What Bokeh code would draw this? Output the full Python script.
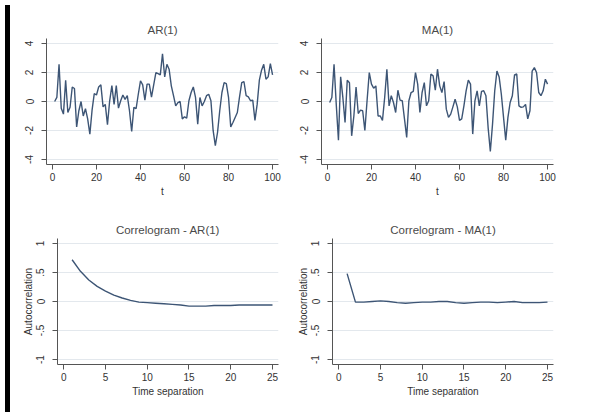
from bokeh.plotting import figure
from bokeh.layouts import column, row
from bokeh.models import Div, FixedTicker
from bokeh.embed import file_html
from bokeh.resources import INLINE

# ---------------- data ----------------
t = list(range(1, 101))
ar1 = [0.0, 0.28, 2.57, -0.46, -0.87, 1.47, -0.76, -0.4, 1.0, 0.9,
       -1.75, -0.64, 0.0, -1.0, -0.5, -1.2, -2.25, -0.6, 0.55, 0.45,
       1.0, 1.15, -0.37, -0.2, -1.6, 0.05, 1.1, -0.2, 1.1, -0.46,
       0.05, 0.45, 0.15, 0.4, -0.64, -2.07, -0.4, -0.5, 0.5, 1.43,
       1.15, 0.1, 1.2, 1.2, 0.3, 1.15, 2.0, 1.93, 1.84, 3.3,
       1.7, 2.57, 2.23, 1.08, 0.4, -0.3, -0.07, 0.0, -1.2, -1.06,
       -1.15, 0.05, 0.62, 1.0, 0.28, -1.56, 0.28, -0.3, 0.0, 0.4,
       0.5, 0.05, -2.0, -3.05, -2.14, -0.64, 0.62, 1.3, 1.24, 0.28,
       -1.75, -1.45, -1.1, -0.76, 0.32, 1.3, 1.38, 0.4, 0.32, 0.05,
       0.1, -1.3, -0.2, 1.47, 2.16, 2.57, 1.54, 1.7, 2.62, 1.84]
ma1 = [-0.07, 0.28, 2.57, -0.2, -2.67, 1.7, 0.28, -1.45, 1.47, 1.3,
       -2.37, -1.0, 1.0, -0.83, -0.6, -0.64, -2.0, 0.05, 2.0, 1.2,
       0.92, 1.08, -1.0, -1.0, -1.3, 0.28, 2.23, -0.3, 0.4, -0.07,
       -0.76, 0.78, 0.1, 0.05, -1.2, -2.48, 0.05, 0.62, 0.7, 2.0,
       1.2, -0.76, 0.62, 1.3, -0.3, 0.05, 1.9, 1.77, 0.78, 2.23,
       1.08, 0.62, 1.38, -0.53, -1.1, -0.87, -0.37, 0.16, -0.37, -1.3,
       -1.2, -0.3, 0.74, 1.47, 1.2, -2.25, 0.05, 0.74, -0.3, 0.7,
       0.74, 0.4, -1.8, -3.45, -1.56, 0.74, 2.1, 1.7, 0.5, -1.1,
       -2.67, -1.1, -0.07, 0.4, 1.84, 1.9, -0.3, -0.4, -0.37, -0.2,
       -1.2, -0.64, 2.1, 2.34, 2.0, 0.62, 0.4, 0.74, 1.54, 1.2]

lags = list(range(1, 26))
acf_ar = [0.72, 0.52, 0.37, 0.26, 0.18, 0.11, 0.06, 0.02, -0.01, -0.02,
          -0.03, -0.04, -0.05, -0.06, -0.08, -0.08, -0.08, -0.07, -0.07, -0.07,
          -0.06, -0.06, -0.06, -0.06, -0.06]
acf_ma = [0.48, -0.01, -0.01, 0.0, 0.01, 0.0, -0.02, -0.03, -0.02, -0.01,
          -0.01, 0.0, 0.0, -0.02, -0.03, -0.02, -0.01, -0.01, -0.02, -0.01,
          0.0, -0.02, -0.02, -0.02, -0.01]

ts_xticks = [0, 20, 40, 60, 80, 100]
ts_yticks = [-4, -2, 0, 2, 4]
ts_ylabels = {-4: "-4", -2: "-2", 0: "0", 2: "2", 4: "4"}
acf_xticks = [0, 5, 10, 15, 20, 25]
acf_yticks = [-1, -0.5, 0, 0.5, 1]
acf_ylabels = {-1: "-1", -0.5: "-.5", 0: "0", 0.5: ".5", 1: "1"}

titles = ["AR(1)", "MA(1)", "Correlogram - AR(1)", "Correlogram - MA(1)"]

# ---------------- styling ----------------
FONT = "Liberation Sans"
LINE = "#3d5575"
GRID = "#e3e8ed"
AXIS = "#555555"


def panel(title, x, y, xr, yr, xticks, yticks, ylabels, xlabel, ylabel,
          width, height, bl, br, bt, bb):
    p = figure(width=width, height=height, x_range=xr, y_range=yr,
               output_backend="svg", toolbar_location=None,
               min_border_left=bl, min_border_right=br,
               min_border_top=bt, min_border_bottom=bb,
               title=title)
    p.line(x, y, line_color=LINE, line_width=1.4)
    p.title.align = "center"
    p.title.text_font = FONT
    p.title.text_font_style = "normal"
    p.title.text_font_size = "11.5px"
    p.title.text_color = "#4a4a4a"
    p.title.standoff = 6
    p.outline_line_color = None
    p.background_fill_color = "white"
    p.border_fill_color = "white"
    p.xgrid.visible = False
    p.ygrid.grid_line_color = GRID
    p.ygrid.grid_line_width = 1
    p.xaxis.ticker = FixedTicker(ticks=xticks)
    p.yaxis.ticker = FixedTicker(ticks=yticks)
    p.yaxis.major_label_overrides = ylabels
    p.yaxis.major_label_orientation = "vertical"
    for ax in (p.xaxis[0], p.yaxis[0]):
        ax.axis_line_color = AXIS
        ax.major_tick_line_color = AXIS
        ax.major_tick_in = 0
        ax.major_tick_out = 5
        ax.minor_tick_line_color = None
        ax.major_label_text_font = FONT
        ax.major_label_text_font_size = "10px"
        ax.major_label_text_color = "#333333"
        ax.axis_label_text_font = FONT
        ax.axis_label_text_font_size = "10px"
        ax.axis_label_text_font_style = "normal"
        ax.axis_label_text_color = "#333333"
    p.xaxis.major_label_standoff = 3
    p.yaxis.major_label_standoff = 8
    p.xaxis.axis_label = xlabel
    p.xaxis.axis_label_standoff = 2
    if ylabel:
        p.yaxis.axis_label = ylabel
        p.yaxis.axis_label_standoff = 0
    return p


ts_xr = (-2.7, 102.7)
ts_yr = (-4.35, 4.35)
acf_xr = (-0.75, 25.72)
acf_yr = (-1.086, 1.086)

p1 = panel(titles[0], t, ar1, ts_xr, ts_yr, ts_xticks, ts_yticks, ts_ylabels,
           "t", None, 294, 206, 46, 16, 38, 42)
p2 = panel(titles[1], t, ma1, ts_xr, ts_yr, ts_xticks, ts_yticks, ts_ylabels,
           "t", None, 308, 206, 27, 49, 38, 42)
p3 = panel(titles[2], lags, acf_ar, acf_xr, acf_yr, acf_xticks, acf_yticks, acf_ylabels,
           "Time separation", "Autocorrelation", 294, 204, 57, 16, 32, 46)
p4 = panel(titles[3], lags, acf_ma, acf_xr, acf_yr, acf_xticks, acf_yticks, acf_ylabels,
           "Time separation", "Autocorrelation", 308, 204, 38, 49, 32, 46)

bar = Div(text="", width=1, height=1,
          styles={"position": "fixed", "left": "0px", "top": "0px",
                  "width": "5px", "height": "412px", "background-color": "black"})

p = column(row(p1, p2), row(p3, p4), bar)

open("out.html", "w").write(file_html(p, INLINE))
